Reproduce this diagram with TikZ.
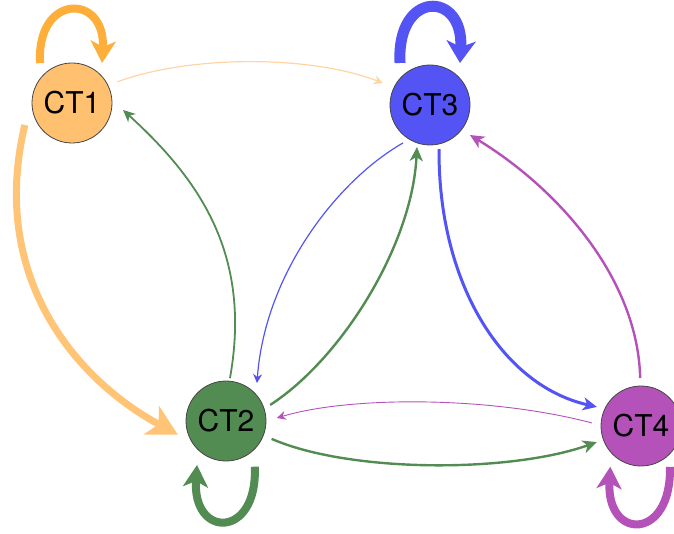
\documentclass[tikz,border=0pt]{standalone}
\usepackage{fontspec}
\setmainfont{TeX Gyre Heros}
\usetikzlibrary{arrows.meta,calc}

\definecolor{ctorange}{RGB}{255,174,58}
\definecolor{ctorangefill}{RGB}{255,192,112}
\definecolor{ctorangelight}{RGB}{255,196,118}
\definecolor{ctorangepale}{RGB}{255,212,165}
\definecolor{ctblue}{RGB}{84,84,245}
\definecolor{ctgreen}{RGB}{82,140,82}
\definecolor{ctpurple}{RGB}{180,82,186}
\definecolor{ctborder}{RGB}{70,70,70}

\tikzset{
  celltype/.style={circle, draw=ctborder, line width=0.8pt, minimum size=80pt,
    inner sep=0pt, font=\fontsize{30}{30}\selectfont},
  thinlink/.style={line width=1.2pt, -{Stealth[length=9pt,width=9pt,inset=3pt]}},
  midlink/.style={line width=2.4pt, -{Stealth[length=14pt,width=13pt,inset=4pt]}},
  selfloop/.style={line width=8pt, -{Stealth[length=22pt,width=25pt,inset=6pt]}},
}

\begin{document}
\begin{tikzpicture}[x=1pt,y=1pt]
\useasboundingbox (0,0) rectangle (674,533);

% cell-type nodes
\node[celltype, fill=ctorangefill] (ct1) at (72,430) {CT1};
\node[celltype, fill=ctblue]       (ct3) at (430,428) {CT3};
\node[celltype, fill=ctgreen]      (ct2) at (226,112) {CT2};
\node[celltype, fill=ctpurple]     (ct4) at (641,107) {CT4};

% self loops
\draw[selfloop, ctorange]
  ($(ct1)+(128.7:51)$) .. controls (36,540) and (106,540) .. ($(ct1)+(53.1:50)$);
\draw[selfloop, ctblue, line width=11pt, -{Stealth[length=22pt,width=29pt,inset=6pt]}]
  ($(ct3)+(125.5:51.6)$) .. controls (396,543) and (464,543) .. ($(ct3)+(54.5:51.6)$);
\draw[selfloop, ctgreen]
  ($(ct2)+(-57.8:54)$) .. controls (258,-6) and (192,-6) .. ($(ct2)+(-123.4:52.7)$);
\draw[selfloop, ctpurple]
  ($(ct4)+(-54.7:50)$) .. controls (672,-8) and (606,-8) .. ($(ct4)+(-127:51)$);

% CT1 -> CT2
\draw[ctorangelight, line width=7pt, -{Stealth[length=30pt,width=32pt,inset=8pt]}]
  ($(ct1)+(205:52)$) .. controls (-10,263) and (68,158) .. ($(ct2)+(196:50)$);
% CT1 -> CT3
\draw[thinlink, ctorangepale]
  ($(ct1)+(25:50)$) .. controls (190,478) and (310,478) .. ($(ct3)+(155:52)$);
% CT2 -> CT1
\draw[ctgreen, line width=1.8pt, -{Stealth[length=12pt,width=11pt,inset=3.5pt]}]
  ($(ct2)+(84.7:43)$) .. controls (252,278) and (200,353) .. ($(ct1)+(-7.8:51.5)$);
% CT3 -> CT2
\draw[thinlink, ctblue]
  ($(ct3)+(234.6:46.6)$) .. controls (338,353) and (265,260) .. ($(ct2)+(50.8:49)$);
% CT2 -> CT3
\draw[midlink, ctgreen]
  ($(ct2)+(20:47)$) .. controls (340,173) and (412,286) .. ($(ct3)+(252.8:44)$);
% CT3 -> CT4
\draw[midlink, ctblue, line width=3pt]
  ($(ct3)+(-78.4:45)$) .. controls (438,253) and (500,148) .. ($(ct4)+(156.6:48)$);
% CT4 -> CT3
\draw[midlink, ctpurple]
  ($(ct4)+(91:48)$) .. controls (638,253) and (560,343) .. ($(ct3)+(-36.9:50)$);
% CT4 -> CT2
\draw[ctpurple, line width=0.9pt, -{Stealth[length=9pt,width=9pt,inset=3pt]}]
  ($(ct4)+(176.5:49)$) .. controls (490,137) and (350,137) .. ($(ct2)+(3.4:51)$);
% CT2 -> CT4
\draw[midlink, ctgreen]
  ($(ct2)+(-21.4:49)$) .. controls (350,60) and (510,60) .. ($(ct4)+(200:47)$);
\end{tikzpicture}
\end{document}
